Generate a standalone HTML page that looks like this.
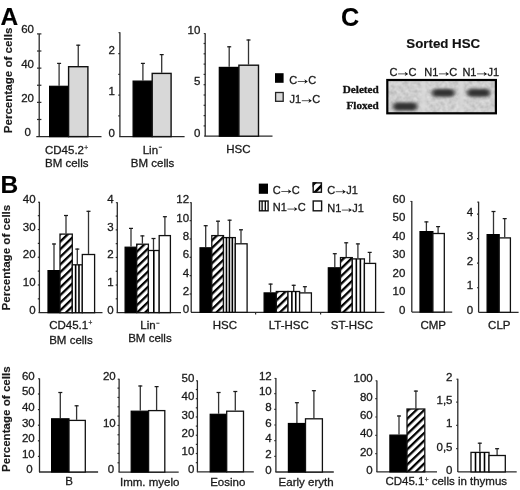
<!DOCTYPE html>
<html><head><meta charset="utf-8"><title>Figure</title>
<style>html,body{margin:0;padding:0;background:#fff;width:520px;height:490px;overflow:hidden;} svg{display:block;will-change:transform;}</style>
</head><body>
<svg width="520" height="490" viewBox="0 0 520 490">
<defs>
<pattern id="hatch" patternUnits="userSpaceOnUse" width="5.5" height="6" patternTransform="rotate(46)">
<rect width="5.5" height="6" fill="#fff"/><rect x="0" y="0" width="2.3" height="6" fill="#000"/>
</pattern>
<filter id="blur1" x="-20%" y="-50%" width="140%" height="200%"><feGaussianBlur stdDeviation="1.2"/></filter>
<filter id="blur3" x="-20%" y="-80%" width="140%" height="260%"><feGaussianBlur stdDeviation="2.0 1.8"/></filter>
<filter id="gnoise" x="0" y="0" width="100%" height="100%"><feTurbulence type="fractalNoise" baseFrequency="0.22" numOctaves="2" seed="7" result="t"/><feColorMatrix in="t" type="matrix" values="0.35 0 0 0 0.445  0.35 0 0 0 0.445  0.35 0 0 0 0.445  0 0 0 0 1"/></filter>
<filter id="blur2" x="-20%" y="-20%" width="140%" height="140%"><feGaussianBlur stdDeviation="0.6"/></filter>
<pattern id="hatchL" patternUnits="userSpaceOnUse" width="7" height="7" patternTransform="translate(313,183) rotate(45)"><rect width="7" height="7" fill="#fff"/><rect x="0" y="0" width="2.6" height="7" fill="#000"/></pattern></defs>
<rect width="520" height="490" fill="#fff"/>
<text x="0.5" y="25" font-size="24.5" text-anchor="start" font-weight="bold" font-family='"Liberation Sans", sans-serif' fill="#000" stroke="#000" stroke-width="0.15" >A</text>
<text x="0.5" y="193" font-size="24.5" text-anchor="start" font-weight="bold" font-family='"Liberation Sans", sans-serif' fill="#000" stroke="#000" stroke-width="0.15" >B</text>
<text x="340.9" y="26.4" font-size="25.2" text-anchor="start" font-weight="bold" font-family='"Liberation Sans", sans-serif' fill="#000" stroke="#000" stroke-width="0.15" >C</text>
<text x="0" y="0" font-size="11.6" text-anchor="start" font-weight="bold" font-family='"Liberation Sans", sans-serif' fill="#1a1a1a" stroke="#1a1a1a" stroke-width="0.15" transform="translate(11.9,133.3) rotate(-90)">Percentage of cells</text>
<text x="0" y="0" font-size="11.6" text-anchor="start" font-weight="bold" font-family='"Liberation Sans", sans-serif' fill="#1a1a1a" stroke="#1a1a1a" stroke-width="0.15" transform="translate(10.0,310.4) rotate(-90)">Percentage of cells</text>
<text x="0" y="0" font-size="11.6" text-anchor="start" font-weight="bold" font-family='"Liberation Sans", sans-serif' fill="#1a1a1a" stroke="#1a1a1a" stroke-width="0.15" transform="translate(10.0,472.0) rotate(-90)">Percentage of cells</text>
<line x1="39.2" y1="33.9" x2="39.2" y2="136.6" stroke="#2a2a2a" stroke-width="1.3"/>
<line x1="37" y1="119.48" x2="41.4" y2="119.48" stroke="#2a2a2a" stroke-width="1.2"/>
<line x1="37" y1="102.37" x2="41.4" y2="102.37" stroke="#2a2a2a" stroke-width="1.2"/>
<line x1="37" y1="85.25" x2="41.4" y2="85.25" stroke="#2a2a2a" stroke-width="1.2"/>
<line x1="37" y1="68.13" x2="41.4" y2="68.13" stroke="#2a2a2a" stroke-width="1.2"/>
<line x1="37" y1="51.02" x2="41.4" y2="51.02" stroke="#2a2a2a" stroke-width="1.2"/>
<line x1="37" y1="33.9" x2="41.4" y2="33.9" stroke="#2a2a2a" stroke-width="1.2"/>
<line x1="36.3" y1="136.6" x2="101.5" y2="136.6" stroke="#2a2a2a" stroke-width="1.3"/>
<text x="34" y="33.3" font-size="11.5" text-anchor="end" font-weight="normal" font-family='"Liberation Sans", sans-serif' fill="#1a1a1a" stroke="#1a1a1a" stroke-width="0.3" >60</text>
<text x="34" y="67.53" font-size="11.5" text-anchor="end" font-weight="normal" font-family='"Liberation Sans", sans-serif' fill="#1a1a1a" stroke="#1a1a1a" stroke-width="0.3" >40</text>
<text x="34" y="101.77" font-size="11.5" text-anchor="end" font-weight="normal" font-family='"Liberation Sans", sans-serif' fill="#1a1a1a" stroke="#1a1a1a" stroke-width="0.3" >20</text>
<text x="31" y="136" font-size="11.5" text-anchor="end" font-weight="normal" font-family='"Liberation Sans", sans-serif' fill="#1a1a1a" stroke="#1a1a1a" stroke-width="0.3" >0</text>
<line x1="59.1" y1="62.9" x2="59.1" y2="85.7" stroke="#333" stroke-width="1.3"/>
<line x1="57.1" y1="63.4" x2="61.1" y2="63.4" stroke="#1a1a1a" stroke-width="1.25"/>
<line x1="78.25" y1="44.7" x2="78.25" y2="66.1" stroke="#333" stroke-width="1.3"/>
<line x1="76.25" y1="45.2" x2="80.25" y2="45.2" stroke="#1a1a1a" stroke-width="1.25"/>
<rect x="49.6" y="86.3" width="19" height="50.3" fill="#000" stroke="#000" stroke-width="1.2"/>
<rect x="68.6" y="66.7" width="19.3" height="69.9" fill="#d8d8d8" stroke="#111" stroke-width="1.4"/>
<text x="45" y="153.6" font-size="11.5" text-anchor="start" font-weight="normal" font-family='"Liberation Sans", sans-serif' fill="#1a1a1a" stroke="#1a1a1a" stroke-width="0.3" >CD45.2<tspan font-size="6.5" dx="0.3" dy="-3.7" fill="#333" stroke="#333" stroke-width="0.25">+</tspan></text>
<text x="45" y="167" font-size="11.5" text-anchor="start" font-weight="normal" font-family='"Liberation Sans", sans-serif' fill="#1a1a1a" stroke="#1a1a1a" stroke-width="0.3" >BM cells</text>
<line x1="119.9" y1="32.3" x2="119.9" y2="136.6" stroke="#2a2a2a" stroke-width="1.3"/>
<line x1="118.5" y1="32.7" x2="119.9" y2="32.7" stroke="#2a2a2a" stroke-width="1.0"/>
<line x1="118.3" y1="115.85" x2="119.9" y2="115.85" stroke="#2a2a2a" stroke-width="1.2"/>
<line x1="118.3" y1="95.1" x2="119.9" y2="95.1" stroke="#2a2a2a" stroke-width="1.2"/>
<line x1="118.3" y1="74.35" x2="119.9" y2="74.35" stroke="#2a2a2a" stroke-width="1.2"/>
<line x1="118.3" y1="53.6" x2="119.9" y2="53.6" stroke="#2a2a2a" stroke-width="1.2"/>
<line x1="119.2" y1="136.6" x2="184.6" y2="136.6" stroke="#2a2a2a" stroke-width="1.3"/>
<text x="114.8" y="53.8" font-size="11.5" text-anchor="end" font-weight="normal" font-family='"Liberation Sans", sans-serif' fill="#1a1a1a" stroke="#1a1a1a" stroke-width="0.3" >2</text>
<text x="114.8" y="95.3" font-size="11.5" text-anchor="end" font-weight="normal" font-family='"Liberation Sans", sans-serif' fill="#1a1a1a" stroke="#1a1a1a" stroke-width="0.3" >1</text>
<text x="114.8" y="136.8" font-size="11.5" text-anchor="end" font-weight="normal" font-family='"Liberation Sans", sans-serif' fill="#1a1a1a" stroke="#1a1a1a" stroke-width="0.3" >0</text>
<line x1="142.9" y1="62.9" x2="142.9" y2="80.5" stroke="#333" stroke-width="1.3"/>
<line x1="140.9" y1="63.4" x2="144.9" y2="63.4" stroke="#1a1a1a" stroke-width="1.25"/>
<line x1="161.7" y1="54.1" x2="161.7" y2="72.8" stroke="#333" stroke-width="1.3"/>
<line x1="159.7" y1="54.6" x2="163.7" y2="54.6" stroke="#1a1a1a" stroke-width="1.25"/>
<rect x="133.1" y="81.1" width="19.1" height="55.5" fill="#000" stroke="#000" stroke-width="1.2"/>
<rect x="152.2" y="73.4" width="18.9" height="63.2" fill="#d8d8d8" stroke="#111" stroke-width="1.4"/>
<text x="142.7" y="153.8" font-size="11.5" text-anchor="start" font-weight="normal" font-family='"Liberation Sans", sans-serif' fill="#1a1a1a" stroke="#1a1a1a" stroke-width="0.3" >Lin<tspan font-size="6" dx="0.6" dy="-4.6" fill="#666">−</tspan></text>
<text x="130.8" y="167.3" font-size="11.5" text-anchor="start" font-weight="normal" font-family='"Liberation Sans", sans-serif' fill="#1a1a1a" stroke="#1a1a1a" stroke-width="0.3" >BM cells</text>
<line x1="205.2" y1="33.2" x2="205.2" y2="136.2" stroke="#2a2a2a" stroke-width="1.3"/>
<line x1="203.8" y1="33.6" x2="205.2" y2="33.6" stroke="#2a2a2a" stroke-width="1.0"/>
<line x1="203.6" y1="125.9" x2="205.2" y2="125.9" stroke="#2a2a2a" stroke-width="1.2"/>
<line x1="203.6" y1="115.6" x2="205.2" y2="115.6" stroke="#2a2a2a" stroke-width="1.2"/>
<line x1="203.6" y1="105.3" x2="205.2" y2="105.3" stroke="#2a2a2a" stroke-width="1.2"/>
<line x1="203.6" y1="95" x2="205.2" y2="95" stroke="#2a2a2a" stroke-width="1.2"/>
<line x1="203.6" y1="84.7" x2="205.2" y2="84.7" stroke="#2a2a2a" stroke-width="1.2"/>
<line x1="203.6" y1="74.4" x2="205.2" y2="74.4" stroke="#2a2a2a" stroke-width="1.2"/>
<line x1="203.6" y1="64.1" x2="205.2" y2="64.1" stroke="#2a2a2a" stroke-width="1.2"/>
<line x1="203.6" y1="53.8" x2="205.2" y2="53.8" stroke="#2a2a2a" stroke-width="1.2"/>
<line x1="203.6" y1="43.5" x2="205.2" y2="43.5" stroke="#2a2a2a" stroke-width="1.2"/>
<line x1="204.2" y1="136.2" x2="272.5" y2="136.2" stroke="#2a2a2a" stroke-width="1.3"/>
<text x="200.4" y="33.5" font-size="11.5" text-anchor="end" font-weight="normal" font-family='"Liberation Sans", sans-serif' fill="#1a1a1a" stroke="#1a1a1a" stroke-width="0.3" >10</text>
<text x="200.4" y="85" font-size="11.5" text-anchor="end" font-weight="normal" font-family='"Liberation Sans", sans-serif' fill="#1a1a1a" stroke="#1a1a1a" stroke-width="0.3" >5</text>
<text x="200.4" y="136.5" font-size="11.5" text-anchor="end" font-weight="normal" font-family='"Liberation Sans", sans-serif' fill="#1a1a1a" stroke="#1a1a1a" stroke-width="0.3" >0</text>
<line x1="229.2" y1="46.3" x2="229.2" y2="66.8" stroke="#333" stroke-width="1.3"/>
<line x1="227.2" y1="46.8" x2="231.2" y2="46.8" stroke="#1a1a1a" stroke-width="1.25"/>
<line x1="248.5" y1="39.5" x2="248.5" y2="64.6" stroke="#333" stroke-width="1.3"/>
<line x1="246.5" y1="40" x2="250.5" y2="40" stroke="#1a1a1a" stroke-width="1.25"/>
<rect x="219.3" y="67.4" width="19.6" height="68.8" fill="#000" stroke="#000" stroke-width="1.2"/>
<rect x="238.9" y="65.2" width="19.6" height="71" fill="#d8d8d8" stroke="#111" stroke-width="1.4"/>
<text x="226.3" y="153.3" font-size="11.5" text-anchor="start" font-weight="normal" font-family='"Liberation Sans", sans-serif' fill="#1a1a1a" stroke="#1a1a1a" stroke-width="0.3" >HSC</text>
<rect x="275" y="73.2" width="8.6" height="9.6" fill="#000"/>
<text x="289.2" y="83.8" font-size="11" text-anchor="start" font-weight="normal" font-family='"Liberation Sans", sans-serif' fill="#1a1a1a" stroke="#1a1a1a" stroke-width="0.3" >C</text>
<line x1="297.69" y1="81.49" x2="306.05" y2="81.49" stroke="#444" stroke-width="0.9"/>
<path d="M304.29,79.29 L307.81,81.49 L304.29,83.69 L305.35,81.49 Z" fill="#111"/>
<text x="308.14" y="83.8" font-size="11" text-anchor="start" font-weight="normal" font-family='"Liberation Sans", sans-serif' fill="#1a1a1a" stroke="#1a1a1a" stroke-width="0.3" >C</text>
<rect x="275.6" y="92.5" width="7.6" height="8.8" fill="#d8d8d8" stroke="#222" stroke-width="1.3"/>
<text x="289.6" y="103" font-size="11" text-anchor="start" font-weight="normal" font-family='"Liberation Sans", sans-serif' fill="#1a1a1a" stroke="#1a1a1a" stroke-width="0.3" >J1</text>
<line x1="301.77" y1="100.69" x2="310.13" y2="100.69" stroke="#444" stroke-width="0.9"/>
<path d="M308.37,98.49 L311.89,100.69 L308.37,102.89 L309.42,100.69 Z" fill="#111"/>
<text x="312.22" y="103" font-size="11" text-anchor="start" font-weight="normal" font-family='"Liberation Sans", sans-serif' fill="#1a1a1a" stroke="#1a1a1a" stroke-width="0.3" >C</text>
<text x="406.3" y="48.3" font-size="13.3" text-anchor="start" font-weight="bold" font-family='"Liberation Sans", sans-serif' fill="#111" stroke="#111" stroke-width="0.15" >Sorted HSC</text>
<text x="389.6" y="76.2" font-size="11" text-anchor="start" font-weight="normal" font-family='"Liberation Sans", sans-serif' fill="#1a1a1a" stroke="#1a1a1a" stroke-width="0.3" >C</text>
<line x1="398.09" y1="73.89" x2="406.45" y2="73.89" stroke="#444" stroke-width="0.9"/>
<path d="M404.69,71.69 L408.21,73.89 L404.69,76.09 L405.75,73.89 Z" fill="#111"/>
<text x="408.54" y="76.2" font-size="11" text-anchor="start" font-weight="normal" font-family='"Liberation Sans", sans-serif' fill="#1a1a1a" stroke="#1a1a1a" stroke-width="0.3" >C</text>
<text x="424.3" y="76.2" font-size="11" text-anchor="start" font-weight="normal" font-family='"Liberation Sans", sans-serif' fill="#1a1a1a" stroke="#1a1a1a" stroke-width="0.3" >N1</text>
<line x1="438.91" y1="73.89" x2="447.27" y2="73.89" stroke="#444" stroke-width="0.9"/>
<path d="M445.51,71.69 L449.03,73.89 L445.51,76.09 L446.57,73.89 Z" fill="#111"/>
<text x="449.36" y="76.2" font-size="11" text-anchor="start" font-weight="normal" font-family='"Liberation Sans", sans-serif' fill="#1a1a1a" stroke="#1a1a1a" stroke-width="0.3" >C</text>
<text x="462.4" y="76.2" font-size="11" text-anchor="start" font-weight="normal" font-family='"Liberation Sans", sans-serif' fill="#1a1a1a" stroke="#1a1a1a" stroke-width="0.3" >N1</text>
<line x1="477.01" y1="73.89" x2="485.37" y2="73.89" stroke="#444" stroke-width="0.9"/>
<path d="M483.61,71.69 L487.13,73.89 L483.61,76.09 L484.67,73.89 Z" fill="#111"/>
<text x="487.46" y="76.2" font-size="11" text-anchor="start" font-weight="normal" font-family='"Liberation Sans", sans-serif' fill="#1a1a1a" stroke="#1a1a1a" stroke-width="0.3" >J1</text>
<text x="378.8" y="92.9" font-size="11.2" text-anchor="end" font-weight="bold" font-family='"Liberation Serif", serif' fill="#111" stroke="#111" stroke-width="0.3" >Deleted</text>
<text x="378.8" y="108.8" font-size="11.2" text-anchor="end" font-weight="bold" font-family='"Liberation Serif", serif' fill="#111" stroke="#111" stroke-width="0.3" >Floxed</text>
<rect x="387.3" y="80" width="108.6" height="33.3" fill="#c9c9c9"/>
<rect x="387.3" y="80" width="108.6" height="33.3" fill="#000" filter="url(#gnoise)"/>
<rect x="421.5" y="80" width="4.5" height="33.3" fill="#dcdcdc" filter="url(#blur1)" opacity="0.8"/>
<rect x="459" y="80" width="4.5" height="33.3" fill="#dadada" filter="url(#blur1)" opacity="0.8"/>
<g filter="url(#blur3)" fill="#333">
<rect x="393.2" y="102.6" width="24" height="7.9" rx="3.8"/>
<rect x="432.2" y="88.9" width="22.4" height="7.9" rx="3.8"/>
<rect x="467.2" y="88.9" width="22.8" height="7.9" rx="3.8"/>
</g>
<rect x="387.3" y="80" width="108.6" height="33.3" fill="none" stroke="#000" stroke-width="2.2"/>
<line x1="39.4" y1="201.8" x2="39.4" y2="312.7" stroke="#2a2a2a" stroke-width="1.3"/>
<line x1="38" y1="202.2" x2="39.4" y2="202.2" stroke="#2a2a2a" stroke-width="1.0"/>
<line x1="37.8" y1="298.84" x2="39.4" y2="298.84" stroke="#2a2a2a" stroke-width="1.2"/>
<line x1="37.8" y1="284.98" x2="39.4" y2="284.98" stroke="#2a2a2a" stroke-width="1.2"/>
<line x1="37.8" y1="271.11" x2="39.4" y2="271.11" stroke="#2a2a2a" stroke-width="1.2"/>
<line x1="37.8" y1="257.25" x2="39.4" y2="257.25" stroke="#2a2a2a" stroke-width="1.2"/>
<line x1="37.8" y1="243.39" x2="39.4" y2="243.39" stroke="#2a2a2a" stroke-width="1.2"/>
<line x1="37.8" y1="229.53" x2="39.4" y2="229.53" stroke="#2a2a2a" stroke-width="1.2"/>
<line x1="37.8" y1="215.66" x2="39.4" y2="215.66" stroke="#2a2a2a" stroke-width="1.2"/>
<line x1="38.5" y1="312.7" x2="102.5" y2="312.7" stroke="#2a2a2a" stroke-width="1.3"/>
<text x="35.6" y="202.8" font-size="11.5" text-anchor="end" font-weight="normal" font-family='"Liberation Sans", sans-serif' fill="#1a1a1a" stroke="#1a1a1a" stroke-width="0.3" >40</text>
<text x="35.6" y="230.53" font-size="11.5" text-anchor="end" font-weight="normal" font-family='"Liberation Sans", sans-serif' fill="#1a1a1a" stroke="#1a1a1a" stroke-width="0.3" >30</text>
<text x="35.6" y="258.25" font-size="11.5" text-anchor="end" font-weight="normal" font-family='"Liberation Sans", sans-serif' fill="#1a1a1a" stroke="#1a1a1a" stroke-width="0.3" >20</text>
<text x="35.6" y="285.98" font-size="11.5" text-anchor="end" font-weight="normal" font-family='"Liberation Sans", sans-serif' fill="#1a1a1a" stroke="#1a1a1a" stroke-width="0.3" >10</text>
<text x="35.6" y="313.7" font-size="11.5" text-anchor="end" font-weight="normal" font-family='"Liberation Sans", sans-serif' fill="#1a1a1a" stroke="#1a1a1a" stroke-width="0.3" >0</text>
<line x1="54" y1="243.5" x2="54" y2="270" stroke="#333" stroke-width="1.3"/>
<line x1="52" y1="244" x2="56" y2="244" stroke="#1a1a1a" stroke-width="1.25"/>
<line x1="66" y1="215" x2="66" y2="233.5" stroke="#333" stroke-width="1.3"/>
<line x1="64" y1="215.5" x2="68" y2="215.5" stroke="#1a1a1a" stroke-width="1.25"/>
<line x1="77.3" y1="248.6" x2="77.3" y2="264.2" stroke="#333" stroke-width="1.3"/>
<line x1="75.3" y1="249.1" x2="79.3" y2="249.1" stroke="#1a1a1a" stroke-width="1.25"/>
<line x1="88.5" y1="210.8" x2="88.5" y2="253.9" stroke="#333" stroke-width="1.3"/>
<line x1="86.5" y1="211.3" x2="90.5" y2="211.3" stroke="#1a1a1a" stroke-width="1.25"/>
<rect x="48" y="270.6" width="12" height="42.1" fill="#000" stroke="#000" stroke-width="1.2"/>
<rect x="60" y="234.1" width="12.3" height="78.6" fill="url(#hatch)" stroke="#111" stroke-width="1.3"/>
<rect x="72.3" y="264.8" width="10" height="47.9" fill="#fff" stroke="#111" stroke-width="1.3"/>
<line x1="75.63" y1="264.8" x2="75.63" y2="312.7" stroke="#000" stroke-width="1.6"/>
<line x1="78.97" y1="264.8" x2="78.97" y2="312.7" stroke="#000" stroke-width="1.6"/>
<rect x="82.3" y="254.5" width="12.3" height="58.2" fill="#fff" stroke="#111" stroke-width="1.3"/>
<text x="49.2" y="328.7" font-size="11.5" text-anchor="start" font-weight="normal" font-family='"Liberation Sans", sans-serif' fill="#1a1a1a" stroke="#1a1a1a" stroke-width="0.3" >CD45.1<tspan font-size="6.5" dx="0.3" dy="-3.7" fill="#333" stroke="#333" stroke-width="0.25">+</tspan></text>
<text x="49.2" y="343.5" font-size="11.5" text-anchor="start" font-weight="normal" font-family='"Liberation Sans", sans-serif' fill="#1a1a1a" stroke="#1a1a1a" stroke-width="0.3" >BM cells</text>
<line x1="117.3" y1="202.3" x2="117.3" y2="312.6" stroke="#2a2a2a" stroke-width="1.3"/>
<line x1="115.9" y1="202.7" x2="117.3" y2="202.7" stroke="#2a2a2a" stroke-width="1.0"/>
<line x1="115.7" y1="298.81" x2="117.3" y2="298.81" stroke="#2a2a2a" stroke-width="1.2"/>
<line x1="115.7" y1="285.03" x2="117.3" y2="285.03" stroke="#2a2a2a" stroke-width="1.2"/>
<line x1="115.7" y1="271.24" x2="117.3" y2="271.24" stroke="#2a2a2a" stroke-width="1.2"/>
<line x1="115.7" y1="257.45" x2="117.3" y2="257.45" stroke="#2a2a2a" stroke-width="1.2"/>
<line x1="115.7" y1="243.66" x2="117.3" y2="243.66" stroke="#2a2a2a" stroke-width="1.2"/>
<line x1="115.7" y1="229.88" x2="117.3" y2="229.88" stroke="#2a2a2a" stroke-width="1.2"/>
<line x1="115.7" y1="216.09" x2="117.3" y2="216.09" stroke="#2a2a2a" stroke-width="1.2"/>
<line x1="116.6" y1="312.6" x2="181" y2="312.6" stroke="#2a2a2a" stroke-width="1.3"/>
<text x="113.6" y="203.3" font-size="11.5" text-anchor="end" font-weight="normal" font-family='"Liberation Sans", sans-serif' fill="#1a1a1a" stroke="#1a1a1a" stroke-width="0.3" >4</text>
<text x="113.6" y="230.88" font-size="11.5" text-anchor="end" font-weight="normal" font-family='"Liberation Sans", sans-serif' fill="#1a1a1a" stroke="#1a1a1a" stroke-width="0.3" >3</text>
<text x="113.6" y="258.45" font-size="11.5" text-anchor="end" font-weight="normal" font-family='"Liberation Sans", sans-serif' fill="#1a1a1a" stroke="#1a1a1a" stroke-width="0.3" >2</text>
<text x="113.6" y="286.03" font-size="11.5" text-anchor="end" font-weight="normal" font-family='"Liberation Sans", sans-serif' fill="#1a1a1a" stroke="#1a1a1a" stroke-width="0.3" >1</text>
<text x="113.6" y="313.6" font-size="11.5" text-anchor="end" font-weight="normal" font-family='"Liberation Sans", sans-serif' fill="#1a1a1a" stroke="#1a1a1a" stroke-width="0.3" >0</text>
<line x1="131" y1="227.9" x2="131" y2="246.6" stroke="#333" stroke-width="1.3"/>
<line x1="129" y1="228.4" x2="133" y2="228.4" stroke="#1a1a1a" stroke-width="1.25"/>
<line x1="142.4" y1="235.4" x2="142.4" y2="243.6" stroke="#333" stroke-width="1.3"/>
<line x1="140.4" y1="235.9" x2="144.4" y2="235.9" stroke="#1a1a1a" stroke-width="1.25"/>
<line x1="153.5" y1="238" x2="153.5" y2="249.9" stroke="#333" stroke-width="1.3"/>
<line x1="151.5" y1="238.5" x2="155.5" y2="238.5" stroke="#1a1a1a" stroke-width="1.25"/>
<line x1="164.9" y1="216.2" x2="164.9" y2="235" stroke="#333" stroke-width="1.3"/>
<line x1="162.9" y1="216.7" x2="166.9" y2="216.7" stroke="#1a1a1a" stroke-width="1.25"/>
<rect x="125.1" y="247.2" width="11.6" height="65.4" fill="#000" stroke="#000" stroke-width="1.2"/>
<rect x="136.7" y="244.2" width="11.7" height="68.4" fill="url(#hatch)" stroke="#111" stroke-width="1.3"/>
<rect x="148.4" y="250.5" width="10.8" height="62.1" fill="#fff" stroke="#111" stroke-width="1.3"/>
<line x1="153.8" y1="250.5" x2="153.8" y2="312.6" stroke="#000" stroke-width="1.6"/>
<rect x="159.2" y="235.6" width="11.2" height="77" fill="#fff" stroke="#111" stroke-width="1.3"/>
<text x="140.3" y="329.2" font-size="11.5" text-anchor="start" font-weight="normal" font-family='"Liberation Sans", sans-serif' fill="#1a1a1a" stroke="#1a1a1a" stroke-width="0.3" >Lin<tspan font-size="6" dx="0.6" dy="-4.6" fill="#666">−</tspan></text>
<text x="128.2" y="341.9" font-size="11.5" text-anchor="start" font-weight="normal" font-family='"Liberation Sans", sans-serif' fill="#1a1a1a" stroke="#1a1a1a" stroke-width="0.3" >BM cells</text>
<line x1="191.2" y1="202.3" x2="191.2" y2="312.3" stroke="#2a2a2a" stroke-width="1.3"/>
<line x1="189.8" y1="202.7" x2="191.2" y2="202.7" stroke="#2a2a2a" stroke-width="1.0"/>
<line x1="189.6" y1="293.97" x2="191.2" y2="293.97" stroke="#2a2a2a" stroke-width="1.2"/>
<line x1="189.6" y1="275.63" x2="191.2" y2="275.63" stroke="#2a2a2a" stroke-width="1.2"/>
<line x1="189.6" y1="257.3" x2="191.2" y2="257.3" stroke="#2a2a2a" stroke-width="1.2"/>
<line x1="189.6" y1="238.97" x2="191.2" y2="238.97" stroke="#2a2a2a" stroke-width="1.2"/>
<line x1="189.6" y1="220.63" x2="191.2" y2="220.63" stroke="#2a2a2a" stroke-width="1.2"/>
<line x1="191" y1="312.3" x2="384.5" y2="312.3" stroke="#2a2a2a" stroke-width="1.3"/>
<line x1="255.6" y1="312.3" x2="255.6" y2="314.5" stroke="#2a2a2a" stroke-width="1.2"/>
<line x1="320.6" y1="312.3" x2="320.6" y2="314.5" stroke="#2a2a2a" stroke-width="1.2"/>
<text x="189.1" y="203.3" font-size="11.5" text-anchor="end" font-weight="normal" font-family='"Liberation Sans", sans-serif' fill="#1a1a1a" stroke="#1a1a1a" stroke-width="0.3" >12</text>
<text x="189.1" y="221.63" font-size="11.5" text-anchor="end" font-weight="normal" font-family='"Liberation Sans", sans-serif' fill="#1a1a1a" stroke="#1a1a1a" stroke-width="0.3" >10</text>
<text x="189.1" y="239.97" font-size="11.5" text-anchor="end" font-weight="normal" font-family='"Liberation Sans", sans-serif' fill="#1a1a1a" stroke="#1a1a1a" stroke-width="0.3" >8</text>
<text x="189.1" y="258.3" font-size="11.5" text-anchor="end" font-weight="normal" font-family='"Liberation Sans", sans-serif' fill="#1a1a1a" stroke="#1a1a1a" stroke-width="0.3" >6</text>
<text x="189.1" y="276.63" font-size="11.5" text-anchor="end" font-weight="normal" font-family='"Liberation Sans", sans-serif' fill="#1a1a1a" stroke="#1a1a1a" stroke-width="0.3" >4</text>
<text x="189.1" y="294.97" font-size="11.5" text-anchor="end" font-weight="normal" font-family='"Liberation Sans", sans-serif' fill="#1a1a1a" stroke="#1a1a1a" stroke-width="0.3" >2</text>
<text x="189.1" y="313.3" font-size="11.5" text-anchor="end" font-weight="normal" font-family='"Liberation Sans", sans-serif' fill="#1a1a1a" stroke="#1a1a1a" stroke-width="0.3" >0</text>
<line x1="205.7" y1="225.2" x2="205.7" y2="247.2" stroke="#333" stroke-width="1.3"/>
<line x1="203.7" y1="225.7" x2="207.7" y2="225.7" stroke="#1a1a1a" stroke-width="1.25"/>
<line x1="218" y1="220.7" x2="218" y2="235" stroke="#333" stroke-width="1.3"/>
<line x1="216" y1="221.2" x2="220" y2="221.2" stroke="#1a1a1a" stroke-width="1.25"/>
<line x1="229.6" y1="219.7" x2="229.6" y2="237" stroke="#333" stroke-width="1.3"/>
<line x1="227.6" y1="220.2" x2="231.6" y2="220.2" stroke="#1a1a1a" stroke-width="1.25"/>
<line x1="241" y1="229.3" x2="241" y2="243.2" stroke="#333" stroke-width="1.3"/>
<line x1="239" y1="229.8" x2="243" y2="229.8" stroke="#1a1a1a" stroke-width="1.25"/>
<rect x="200" y="247.8" width="11.8" height="64.5" fill="#000" stroke="#000" stroke-width="1.2"/>
<rect x="211.8" y="235.6" width="11.7" height="76.7" fill="url(#hatch)" stroke="#111" stroke-width="1.3"/>
<rect x="223.5" y="237.6" width="11.8" height="74.7" fill="#fff" stroke="#111" stroke-width="1.3"/>
<line x1="226.45" y1="237.6" x2="226.45" y2="312.3" stroke="#000" stroke-width="1.6"/>
<line x1="229.4" y1="237.6" x2="229.4" y2="312.3" stroke="#000" stroke-width="1.6"/>
<line x1="232.35" y1="237.6" x2="232.35" y2="312.3" stroke="#000" stroke-width="1.6"/>
<rect x="235.3" y="243.8" width="11.8" height="68.5" fill="#fff" stroke="#111" stroke-width="1.3"/>
<line x1="270.6" y1="283.6" x2="270.6" y2="292.3" stroke="#333" stroke-width="1.3"/>
<line x1="268.6" y1="284.1" x2="272.6" y2="284.1" stroke="#1a1a1a" stroke-width="1.25"/>
<line x1="293.7" y1="284.8" x2="293.7" y2="290.9" stroke="#333" stroke-width="1.3"/>
<line x1="291.7" y1="285.3" x2="295.7" y2="285.3" stroke="#1a1a1a" stroke-width="1.25"/>
<line x1="304.9" y1="286.2" x2="304.9" y2="292.3" stroke="#333" stroke-width="1.3"/>
<line x1="302.9" y1="286.7" x2="306.9" y2="286.7" stroke="#1a1a1a" stroke-width="1.25"/>
<rect x="264.1" y="292.9" width="12.2" height="19.4" fill="#000" stroke="#000" stroke-width="1.2"/>
<rect x="276.3" y="291.5" width="11.7" height="20.8" fill="url(#hatch)" stroke="#111" stroke-width="1.3"/>
<rect x="288" y="291.5" width="11.6" height="20.8" fill="#fff" stroke="#111" stroke-width="1.3"/>
<line x1="291.87" y1="291.5" x2="291.87" y2="312.3" stroke="#000" stroke-width="1.6"/>
<line x1="295.73" y1="291.5" x2="295.73" y2="312.3" stroke="#000" stroke-width="1.6"/>
<rect x="299.6" y="292.9" width="11.8" height="19.4" fill="#fff" stroke="#111" stroke-width="1.3"/>
<line x1="334.8" y1="253.2" x2="334.8" y2="267.2" stroke="#333" stroke-width="1.3"/>
<line x1="332.8" y1="253.7" x2="336.8" y2="253.7" stroke="#1a1a1a" stroke-width="1.25"/>
<line x1="346.2" y1="242.3" x2="346.2" y2="257" stroke="#333" stroke-width="1.3"/>
<line x1="344.2" y1="242.8" x2="348.2" y2="242.8" stroke="#1a1a1a" stroke-width="1.25"/>
<line x1="357.9" y1="243.4" x2="357.9" y2="258.3" stroke="#333" stroke-width="1.3"/>
<line x1="355.9" y1="243.9" x2="359.9" y2="243.9" stroke="#1a1a1a" stroke-width="1.25"/>
<line x1="369.7" y1="251.9" x2="369.7" y2="262.8" stroke="#333" stroke-width="1.3"/>
<line x1="367.7" y1="252.4" x2="371.7" y2="252.4" stroke="#1a1a1a" stroke-width="1.25"/>
<rect x="328.3" y="267.8" width="12.2" height="44.5" fill="#000" stroke="#000" stroke-width="1.2"/>
<rect x="340.5" y="257.6" width="11.8" height="54.7" fill="url(#hatch)" stroke="#111" stroke-width="1.3"/>
<rect x="352.3" y="258.9" width="12.1" height="53.4" fill="#fff" stroke="#111" stroke-width="1.3"/>
<line x1="356.33" y1="258.9" x2="356.33" y2="312.3" stroke="#000" stroke-width="1.6"/>
<line x1="360.37" y1="258.9" x2="360.37" y2="312.3" stroke="#000" stroke-width="1.6"/>
<rect x="364.4" y="263.4" width="11.2" height="48.9" fill="#fff" stroke="#111" stroke-width="1.3"/>
<text x="212.8" y="329" font-size="11.5" text-anchor="start" font-weight="normal" font-family='"Liberation Sans", sans-serif' fill="#1a1a1a" stroke="#1a1a1a" stroke-width="0.3" >HSC</text>
<text x="268.8" y="329.4" font-size="11.5" text-anchor="start" font-weight="normal" font-family='"Liberation Sans", sans-serif' fill="#1a1a1a" stroke="#1a1a1a" stroke-width="0.3" >LT-HSC</text>
<text x="330.8" y="329.4" font-size="11.5" text-anchor="start" font-weight="normal" font-family='"Liberation Sans", sans-serif' fill="#1a1a1a" stroke="#1a1a1a" stroke-width="0.3" >ST-HSC</text>
<rect x="258.8" y="183.6" width="9.2" height="10.2" fill="#000"/>
<text x="272.8" y="193.8" font-size="11" text-anchor="start" font-weight="normal" font-family='"Liberation Sans", sans-serif' fill="#1a1a1a" stroke="#1a1a1a" stroke-width="0.3" >C</text>
<line x1="281.29" y1="191.49" x2="289.65" y2="191.49" stroke="#444" stroke-width="0.9"/>
<path d="M287.89,189.29 L291.41,191.49 L287.89,193.69 L288.95,191.49 Z" fill="#111"/>
<text x="291.74" y="193.8" font-size="11" text-anchor="start" font-weight="normal" font-family='"Liberation Sans", sans-serif' fill="#1a1a1a" stroke="#1a1a1a" stroke-width="0.3" >C</text>
<clipPath id="lhc"><rect x="312.6" y="182.3" width="9.2" height="10.1"/></clipPath>
<g clip-path="url(#lhc)"><rect x="312.6" y="182.3" width="9.2" height="10.1" fill="#fff"/>
<polygon points="312,182 317.6,182 312,187.6" fill="#000"/>
<polygon points="312,193.3 323.3,182 326.9,182 312,196.9" fill="#000"/></g>
<rect x="313.2" y="182.9" width="8.2" height="9.3" fill="none" stroke="#111" stroke-width="1.4"/>
<text x="327.2" y="194" font-size="11" text-anchor="start" font-weight="normal" font-family='"Liberation Sans", sans-serif' fill="#1a1a1a" stroke="#1a1a1a" stroke-width="0.3" >C</text>
<line x1="335.69" y1="191.69" x2="344.05" y2="191.69" stroke="#444" stroke-width="0.9"/>
<path d="M342.29,189.49 L345.81,191.69 L342.29,193.89 L343.35,191.69 Z" fill="#111"/>
<text x="346.14" y="194" font-size="11" text-anchor="start" font-weight="normal" font-family='"Liberation Sans", sans-serif' fill="#1a1a1a" stroke="#1a1a1a" stroke-width="0.3" >J1</text>
<g><rect x="259.5" y="201" width="8.6" height="9.8" fill="#fff" stroke="#111" stroke-width="1.4"/>
<line x1="262.1" y1="201" x2="262.1" y2="210.8" stroke="#000" stroke-width="1.3"/>
<line x1="265.3" y1="201" x2="265.3" y2="210.8" stroke="#000" stroke-width="1.3"/>
</g>
<text x="272.8" y="211.4" font-size="11" text-anchor="start" font-weight="normal" font-family='"Liberation Sans", sans-serif' fill="#1a1a1a" stroke="#1a1a1a" stroke-width="0.3" >N1</text>
<line x1="287.41" y1="209.09" x2="295.77" y2="209.09" stroke="#444" stroke-width="0.9"/>
<path d="M294.01,206.89 L297.53,209.09 L294.01,211.29 L295.07,209.09 Z" fill="#111"/>
<text x="297.86" y="211.4" font-size="11" text-anchor="start" font-weight="normal" font-family='"Liberation Sans", sans-serif' fill="#1a1a1a" stroke="#1a1a1a" stroke-width="0.3" >C</text>
<rect x="313.2" y="201" width="8.4" height="9.8" fill="#fff" stroke="#111" stroke-width="1.4"/>
<text x="327.2" y="212.4" font-size="11" text-anchor="start" font-weight="normal" font-family='"Liberation Sans", sans-serif' fill="#1a1a1a" stroke="#1a1a1a" stroke-width="0.3" >N1</text>
<line x1="341.81" y1="210.09" x2="350.17" y2="210.09" stroke="#444" stroke-width="0.9"/>
<path d="M348.41,207.89 L351.93,210.09 L348.41,212.29 L349.47,210.09 Z" fill="#111"/>
<text x="352.26" y="212.4" font-size="11" text-anchor="start" font-weight="normal" font-family='"Liberation Sans", sans-serif' fill="#1a1a1a" stroke="#1a1a1a" stroke-width="0.3" >J1</text>
<line x1="411.8" y1="201" x2="411.8" y2="312.1" stroke="#2a2a2a" stroke-width="1.3"/>
<line x1="410.4" y1="201.4" x2="411.8" y2="201.4" stroke="#2a2a2a" stroke-width="1.0"/>
<line x1="411.8" y1="312.1" x2="452.2" y2="312.1" stroke="#2a2a2a" stroke-width="1.3"/>
<text x="405.4" y="202.6" font-size="11.5" text-anchor="end" font-weight="normal" font-family='"Liberation Sans", sans-serif' fill="#1a1a1a" stroke="#1a1a1a" stroke-width="0.3" >60</text>
<text x="405.4" y="221.12" font-size="11.5" text-anchor="end" font-weight="normal" font-family='"Liberation Sans", sans-serif' fill="#1a1a1a" stroke="#1a1a1a" stroke-width="0.3" >50</text>
<text x="405.4" y="239.63" font-size="11.5" text-anchor="end" font-weight="normal" font-family='"Liberation Sans", sans-serif' fill="#1a1a1a" stroke="#1a1a1a" stroke-width="0.3" >40</text>
<text x="405.4" y="258.15" font-size="11.5" text-anchor="end" font-weight="normal" font-family='"Liberation Sans", sans-serif' fill="#1a1a1a" stroke="#1a1a1a" stroke-width="0.3" >30</text>
<text x="405.4" y="276.67" font-size="11.5" text-anchor="end" font-weight="normal" font-family='"Liberation Sans", sans-serif' fill="#1a1a1a" stroke="#1a1a1a" stroke-width="0.3" >20</text>
<text x="405.4" y="295.18" font-size="11.5" text-anchor="end" font-weight="normal" font-family='"Liberation Sans", sans-serif' fill="#1a1a1a" stroke="#1a1a1a" stroke-width="0.3" >10</text>
<text x="405.4" y="313.7" font-size="11.5" text-anchor="end" font-weight="normal" font-family='"Liberation Sans", sans-serif' fill="#1a1a1a" stroke="#1a1a1a" stroke-width="0.3" >0</text>
<line x1="426.4" y1="221.4" x2="426.4" y2="231" stroke="#333" stroke-width="1.3"/>
<line x1="424.4" y1="221.9" x2="428.4" y2="221.9" stroke="#1a1a1a" stroke-width="1.25"/>
<line x1="438.1" y1="226.1" x2="438.1" y2="232.9" stroke="#333" stroke-width="1.3"/>
<line x1="436.1" y1="226.6" x2="440.1" y2="226.6" stroke="#1a1a1a" stroke-width="1.25"/>
<rect x="420" y="231.6" width="12.9" height="80.5" fill="#000" stroke="#000" stroke-width="1.2"/>
<rect x="432.9" y="233.5" width="11.4" height="78.6" fill="#fff" stroke="#111" stroke-width="1.3"/>
<text x="420.4" y="329.4" font-size="11.5" text-anchor="start" font-weight="normal" font-family='"Liberation Sans", sans-serif' fill="#1a1a1a" stroke="#1a1a1a" stroke-width="0.3" >CMP</text>
<line x1="478.6" y1="201.7" x2="478.6" y2="312.3" stroke="#2a2a2a" stroke-width="1.3"/>
<line x1="477.2" y1="202.1" x2="478.6" y2="202.1" stroke="#2a2a2a" stroke-width="1.0"/>
<line x1="477" y1="287.75" x2="478.6" y2="287.75" stroke="#2a2a2a" stroke-width="1.2"/>
<line x1="477" y1="263.2" x2="478.6" y2="263.2" stroke="#2a2a2a" stroke-width="1.2"/>
<line x1="477" y1="238.65" x2="478.6" y2="238.65" stroke="#2a2a2a" stroke-width="1.2"/>
<line x1="477" y1="214.1" x2="478.6" y2="214.1" stroke="#2a2a2a" stroke-width="1.2"/>
<line x1="478.6" y1="312.3" x2="518.6" y2="312.3" stroke="#2a2a2a" stroke-width="1.3"/>
<text x="473.2" y="215.6" font-size="11.5" text-anchor="end" font-weight="normal" font-family='"Liberation Sans", sans-serif' fill="#1a1a1a" stroke="#1a1a1a" stroke-width="0.3" >4</text>
<text x="473.2" y="240.15" font-size="11.5" text-anchor="end" font-weight="normal" font-family='"Liberation Sans", sans-serif' fill="#1a1a1a" stroke="#1a1a1a" stroke-width="0.3" >3</text>
<text x="473.2" y="264.7" font-size="11.5" text-anchor="end" font-weight="normal" font-family='"Liberation Sans", sans-serif' fill="#1a1a1a" stroke="#1a1a1a" stroke-width="0.3" >2</text>
<text x="473.2" y="289.25" font-size="11.5" text-anchor="end" font-weight="normal" font-family='"Liberation Sans", sans-serif' fill="#1a1a1a" stroke="#1a1a1a" stroke-width="0.3" >1</text>
<text x="473.2" y="313.8" font-size="11.5" text-anchor="end" font-weight="normal" font-family='"Liberation Sans", sans-serif' fill="#1a1a1a" stroke="#1a1a1a" stroke-width="0.3" >0</text>
<line x1="493.5" y1="211" x2="493.5" y2="234" stroke="#333" stroke-width="1.3"/>
<line x1="491.5" y1="211.5" x2="495.5" y2="211.5" stroke="#1a1a1a" stroke-width="1.25"/>
<line x1="504.7" y1="218.1" x2="504.7" y2="237.3" stroke="#333" stroke-width="1.3"/>
<line x1="502.7" y1="218.6" x2="506.7" y2="218.6" stroke="#1a1a1a" stroke-width="1.25"/>
<rect x="487.1" y="234.6" width="12.1" height="77.7" fill="#000" stroke="#000" stroke-width="1.2"/>
<rect x="499.2" y="237.9" width="11.2" height="74.4" fill="#fff" stroke="#111" stroke-width="1.3"/>
<text x="488.1" y="329.4" font-size="11.5" text-anchor="start" font-weight="normal" font-family='"Liberation Sans", sans-serif' fill="#1a1a1a" stroke="#1a1a1a" stroke-width="0.3" >CLP</text>
<line x1="39.5" y1="378.4" x2="39.5" y2="472" stroke="#2a2a2a" stroke-width="1.3"/>
<line x1="38.1" y1="378.8" x2="39.5" y2="378.8" stroke="#2a2a2a" stroke-width="1.0"/>
<line x1="37.9" y1="456.4" x2="39.5" y2="456.4" stroke="#2a2a2a" stroke-width="1.2"/>
<line x1="37.9" y1="440.8" x2="39.5" y2="440.8" stroke="#2a2a2a" stroke-width="1.2"/>
<line x1="37.9" y1="425.2" x2="39.5" y2="425.2" stroke="#2a2a2a" stroke-width="1.2"/>
<line x1="37.9" y1="409.6" x2="39.5" y2="409.6" stroke="#2a2a2a" stroke-width="1.2"/>
<line x1="37.9" y1="394" x2="39.5" y2="394" stroke="#2a2a2a" stroke-width="1.2"/>
<line x1="39" y1="472" x2="98.1" y2="472" stroke="#2a2a2a" stroke-width="1.3"/>
<text x="34.7" y="379.8" font-size="11.5" text-anchor="end" font-weight="normal" font-family='"Liberation Sans", sans-serif' fill="#1a1a1a" stroke="#1a1a1a" stroke-width="0.3" >60</text>
<text x="34.7" y="395.4" font-size="11.5" text-anchor="end" font-weight="normal" font-family='"Liberation Sans", sans-serif' fill="#1a1a1a" stroke="#1a1a1a" stroke-width="0.3" >50</text>
<text x="34.7" y="411" font-size="11.5" text-anchor="end" font-weight="normal" font-family='"Liberation Sans", sans-serif' fill="#1a1a1a" stroke="#1a1a1a" stroke-width="0.3" >40</text>
<text x="34.7" y="426.6" font-size="11.5" text-anchor="end" font-weight="normal" font-family='"Liberation Sans", sans-serif' fill="#1a1a1a" stroke="#1a1a1a" stroke-width="0.3" >30</text>
<text x="34.7" y="442.2" font-size="11.5" text-anchor="end" font-weight="normal" font-family='"Liberation Sans", sans-serif' fill="#1a1a1a" stroke="#1a1a1a" stroke-width="0.3" >20</text>
<text x="34.7" y="457.8" font-size="11.5" text-anchor="end" font-weight="normal" font-family='"Liberation Sans", sans-serif' fill="#1a1a1a" stroke="#1a1a1a" stroke-width="0.3" >10</text>
<text x="32.6" y="472.6" font-size="11.5" text-anchor="end" font-weight="normal" font-family='"Liberation Sans", sans-serif' fill="#1a1a1a" stroke="#1a1a1a" stroke-width="0.3" >0</text>
<line x1="60.3" y1="392" x2="60.3" y2="418.2" stroke="#333" stroke-width="1.3"/>
<line x1="58.3" y1="392.5" x2="62.3" y2="392.5" stroke="#1a1a1a" stroke-width="1.25"/>
<line x1="76.6" y1="405.3" x2="76.6" y2="419.8" stroke="#333" stroke-width="1.3"/>
<line x1="74.6" y1="405.8" x2="78.6" y2="405.8" stroke="#1a1a1a" stroke-width="1.25"/>
<rect x="51.6" y="418.8" width="17.4" height="53.2" fill="#000" stroke="#000" stroke-width="1.2"/>
<rect x="69" y="420.4" width="16.3" height="51.6" fill="#fff" stroke="#111" stroke-width="1.3"/>
<text x="65.3" y="485.4" font-size="11.5" text-anchor="start" font-weight="normal" font-family='"Liberation Sans", sans-serif' fill="#1a1a1a" stroke="#1a1a1a" stroke-width="0.3" >B</text>
<line x1="119.1" y1="378.8" x2="119.1" y2="472.1" stroke="#2a2a2a" stroke-width="1.3"/>
<line x1="117.7" y1="379.2" x2="119.1" y2="379.2" stroke="#2a2a2a" stroke-width="1.0"/>
<line x1="117.5" y1="462.77" x2="119.1" y2="462.77" stroke="#2a2a2a" stroke-width="1.2"/>
<line x1="117.5" y1="453.44" x2="119.1" y2="453.44" stroke="#2a2a2a" stroke-width="1.2"/>
<line x1="117.5" y1="444.11" x2="119.1" y2="444.11" stroke="#2a2a2a" stroke-width="1.2"/>
<line x1="117.5" y1="434.78" x2="119.1" y2="434.78" stroke="#2a2a2a" stroke-width="1.2"/>
<line x1="117.5" y1="425.45" x2="119.1" y2="425.45" stroke="#2a2a2a" stroke-width="1.2"/>
<line x1="117.5" y1="416.12" x2="119.1" y2="416.12" stroke="#2a2a2a" stroke-width="1.2"/>
<line x1="117.5" y1="406.79" x2="119.1" y2="406.79" stroke="#2a2a2a" stroke-width="1.2"/>
<line x1="117.5" y1="397.46" x2="119.1" y2="397.46" stroke="#2a2a2a" stroke-width="1.2"/>
<line x1="117.5" y1="388.13" x2="119.1" y2="388.13" stroke="#2a2a2a" stroke-width="1.2"/>
<line x1="118.5" y1="472.1" x2="178.7" y2="472.1" stroke="#2a2a2a" stroke-width="1.3"/>
<text x="115.7" y="380.4" font-size="11.5" text-anchor="end" font-weight="normal" font-family='"Liberation Sans", sans-serif' fill="#1a1a1a" stroke="#1a1a1a" stroke-width="0.3" >20</text>
<text x="115.7" y="427.05" font-size="11.5" text-anchor="end" font-weight="normal" font-family='"Liberation Sans", sans-serif' fill="#1a1a1a" stroke="#1a1a1a" stroke-width="0.3" >10</text>
<text x="114.1" y="473" font-size="11.5" text-anchor="end" font-weight="normal" font-family='"Liberation Sans", sans-serif' fill="#1a1a1a" stroke="#1a1a1a" stroke-width="0.3" >0</text>
<line x1="140.3" y1="385.5" x2="140.3" y2="410.6" stroke="#333" stroke-width="1.3"/>
<line x1="138.3" y1="386" x2="142.3" y2="386" stroke="#1a1a1a" stroke-width="1.25"/>
<line x1="156.6" y1="386.1" x2="156.6" y2="410" stroke="#333" stroke-width="1.3"/>
<line x1="154.6" y1="386.6" x2="158.6" y2="386.6" stroke="#1a1a1a" stroke-width="1.25"/>
<rect x="131.2" y="411.2" width="17.4" height="60.9" fill="#000" stroke="#000" stroke-width="1.2"/>
<rect x="148.6" y="410.6" width="16.2" height="61.5" fill="#fff" stroke="#111" stroke-width="1.3"/>
<text x="120" y="486" font-size="11.5" text-anchor="start" font-weight="normal" font-family='"Liberation Sans", sans-serif' fill="#1a1a1a" stroke="#1a1a1a" stroke-width="0.3" >Imm. myelo</text>
<line x1="197.4" y1="380.4" x2="197.4" y2="471.8" stroke="#2a2a2a" stroke-width="1.3"/>
<line x1="196" y1="380.8" x2="197.4" y2="380.8" stroke="#2a2a2a" stroke-width="1.0"/>
<line x1="195.8" y1="462.66" x2="197.4" y2="462.66" stroke="#2a2a2a" stroke-width="1.2"/>
<line x1="195.8" y1="453.52" x2="197.4" y2="453.52" stroke="#2a2a2a" stroke-width="1.2"/>
<line x1="195.8" y1="444.38" x2="197.4" y2="444.38" stroke="#2a2a2a" stroke-width="1.2"/>
<line x1="195.8" y1="435.24" x2="197.4" y2="435.24" stroke="#2a2a2a" stroke-width="1.2"/>
<line x1="195.8" y1="426.1" x2="197.4" y2="426.1" stroke="#2a2a2a" stroke-width="1.2"/>
<line x1="195.8" y1="416.96" x2="197.4" y2="416.96" stroke="#2a2a2a" stroke-width="1.2"/>
<line x1="195.8" y1="407.82" x2="197.4" y2="407.82" stroke="#2a2a2a" stroke-width="1.2"/>
<line x1="195.8" y1="398.68" x2="197.4" y2="398.68" stroke="#2a2a2a" stroke-width="1.2"/>
<line x1="195.8" y1="389.54" x2="197.4" y2="389.54" stroke="#2a2a2a" stroke-width="1.2"/>
<line x1="196.9" y1="471.8" x2="253.8" y2="471.8" stroke="#2a2a2a" stroke-width="1.3"/>
<text x="194.4" y="382" font-size="11.5" text-anchor="end" font-weight="normal" font-family='"Liberation Sans", sans-serif' fill="#1a1a1a" stroke="#1a1a1a" stroke-width="0.3" >50</text>
<text x="194.4" y="400.28" font-size="11.5" text-anchor="end" font-weight="normal" font-family='"Liberation Sans", sans-serif' fill="#1a1a1a" stroke="#1a1a1a" stroke-width="0.3" >40</text>
<text x="194.4" y="418.56" font-size="11.5" text-anchor="end" font-weight="normal" font-family='"Liberation Sans", sans-serif' fill="#1a1a1a" stroke="#1a1a1a" stroke-width="0.3" >30</text>
<text x="194.4" y="436.84" font-size="11.5" text-anchor="end" font-weight="normal" font-family='"Liberation Sans", sans-serif' fill="#1a1a1a" stroke="#1a1a1a" stroke-width="0.3" >20</text>
<text x="194.4" y="455.12" font-size="11.5" text-anchor="end" font-weight="normal" font-family='"Liberation Sans", sans-serif' fill="#1a1a1a" stroke="#1a1a1a" stroke-width="0.3" >10</text>
<text x="194.4" y="473.4" font-size="11.5" text-anchor="end" font-weight="normal" font-family='"Liberation Sans", sans-serif' fill="#1a1a1a" stroke="#1a1a1a" stroke-width="0.3" >0</text>
<line x1="218.6" y1="392" x2="218.6" y2="413.7" stroke="#333" stroke-width="1.3"/>
<line x1="216.6" y1="392.5" x2="220.6" y2="392.5" stroke="#1a1a1a" stroke-width="1.25"/>
<line x1="235.3" y1="391" x2="235.3" y2="410.6" stroke="#333" stroke-width="1.3"/>
<line x1="233.3" y1="391.5" x2="237.3" y2="391.5" stroke="#1a1a1a" stroke-width="1.25"/>
<rect x="210.2" y="414.3" width="16.5" height="57.5" fill="#000" stroke="#000" stroke-width="1.2"/>
<rect x="226.7" y="411.2" width="16.8" height="60.6" fill="#fff" stroke="#111" stroke-width="1.3"/>
<text x="210.2" y="485.5" font-size="11.5" text-anchor="start" font-weight="normal" font-family='"Liberation Sans", sans-serif' fill="#1a1a1a" stroke="#1a1a1a" stroke-width="0.3" >Eosino</text>
<line x1="275.9" y1="378" x2="275.9" y2="472" stroke="#2a2a2a" stroke-width="1.3"/>
<line x1="274.5" y1="378.4" x2="275.9" y2="378.4" stroke="#2a2a2a" stroke-width="1.0"/>
<line x1="274.3" y1="456.33" x2="275.9" y2="456.33" stroke="#2a2a2a" stroke-width="1.2"/>
<line x1="274.3" y1="440.67" x2="275.9" y2="440.67" stroke="#2a2a2a" stroke-width="1.2"/>
<line x1="274.3" y1="425" x2="275.9" y2="425" stroke="#2a2a2a" stroke-width="1.2"/>
<line x1="274.3" y1="409.33" x2="275.9" y2="409.33" stroke="#2a2a2a" stroke-width="1.2"/>
<line x1="274.3" y1="393.67" x2="275.9" y2="393.67" stroke="#2a2a2a" stroke-width="1.2"/>
<line x1="275.4" y1="472" x2="333.8" y2="472" stroke="#2a2a2a" stroke-width="1.3"/>
<text x="271.7" y="379.8" font-size="11.5" text-anchor="end" font-weight="normal" font-family='"Liberation Sans", sans-serif' fill="#1a1a1a" stroke="#1a1a1a" stroke-width="0.3" >12</text>
<text x="271.7" y="395.47" font-size="11.5" text-anchor="end" font-weight="normal" font-family='"Liberation Sans", sans-serif' fill="#1a1a1a" stroke="#1a1a1a" stroke-width="0.3" >10</text>
<text x="271.7" y="411.13" font-size="11.5" text-anchor="end" font-weight="normal" font-family='"Liberation Sans", sans-serif' fill="#1a1a1a" stroke="#1a1a1a" stroke-width="0.3" >8</text>
<text x="271.7" y="426.8" font-size="11.5" text-anchor="end" font-weight="normal" font-family='"Liberation Sans", sans-serif' fill="#1a1a1a" stroke="#1a1a1a" stroke-width="0.3" >6</text>
<text x="271.7" y="442.47" font-size="11.5" text-anchor="end" font-weight="normal" font-family='"Liberation Sans", sans-serif' fill="#1a1a1a" stroke="#1a1a1a" stroke-width="0.3" >4</text>
<text x="271.7" y="458.13" font-size="11.5" text-anchor="end" font-weight="normal" font-family='"Liberation Sans", sans-serif' fill="#1a1a1a" stroke="#1a1a1a" stroke-width="0.3" >2</text>
<text x="271.7" y="473.8" font-size="11.5" text-anchor="end" font-weight="normal" font-family='"Liberation Sans", sans-serif' fill="#1a1a1a" stroke="#1a1a1a" stroke-width="0.3" >0</text>
<line x1="296.9" y1="402.2" x2="296.9" y2="422.9" stroke="#333" stroke-width="1.3"/>
<line x1="294.9" y1="402.7" x2="298.9" y2="402.7" stroke="#1a1a1a" stroke-width="1.25"/>
<line x1="313.9" y1="390.2" x2="313.9" y2="418.2" stroke="#333" stroke-width="1.3"/>
<line x1="311.9" y1="390.7" x2="315.9" y2="390.7" stroke="#1a1a1a" stroke-width="1.25"/>
<rect x="288.4" y="423.5" width="17.1" height="48.5" fill="#000" stroke="#000" stroke-width="1.2"/>
<rect x="305.5" y="418.8" width="16.9" height="53.2" fill="#fff" stroke="#111" stroke-width="1.3"/>
<text x="278.6" y="485.5" font-size="11.5" text-anchor="start" font-weight="normal" font-family='"Liberation Sans", sans-serif' fill="#1a1a1a" stroke="#1a1a1a" stroke-width="0.3" >Early eryth</text>
<line x1="376.9" y1="380.4" x2="376.9" y2="471.9" stroke="#2a2a2a" stroke-width="1.3"/>
<line x1="375.5" y1="380.8" x2="376.9" y2="380.8" stroke="#2a2a2a" stroke-width="1.0"/>
<line x1="375.3" y1="453.6" x2="376.9" y2="453.6" stroke="#2a2a2a" stroke-width="1.2"/>
<line x1="375.3" y1="435.3" x2="376.9" y2="435.3" stroke="#2a2a2a" stroke-width="1.2"/>
<line x1="375.3" y1="417" x2="376.9" y2="417" stroke="#2a2a2a" stroke-width="1.2"/>
<line x1="375.3" y1="398.7" x2="376.9" y2="398.7" stroke="#2a2a2a" stroke-width="1.2"/>
<line x1="376.5" y1="471.9" x2="437" y2="471.9" stroke="#2a2a2a" stroke-width="1.3"/>
<text x="372.7" y="382.4" font-size="11.5" text-anchor="end" font-weight="normal" font-family='"Liberation Sans", sans-serif' fill="#1a1a1a" stroke="#1a1a1a" stroke-width="0.3" >100</text>
<text x="372.7" y="400.7" font-size="11.5" text-anchor="end" font-weight="normal" font-family='"Liberation Sans", sans-serif' fill="#1a1a1a" stroke="#1a1a1a" stroke-width="0.3" >80</text>
<text x="372.7" y="419" font-size="11.5" text-anchor="end" font-weight="normal" font-family='"Liberation Sans", sans-serif' fill="#1a1a1a" stroke="#1a1a1a" stroke-width="0.3" >60</text>
<text x="372.7" y="437.3" font-size="11.5" text-anchor="end" font-weight="normal" font-family='"Liberation Sans", sans-serif' fill="#1a1a1a" stroke="#1a1a1a" stroke-width="0.3" >40</text>
<text x="372.7" y="455.6" font-size="11.5" text-anchor="end" font-weight="normal" font-family='"Liberation Sans", sans-serif' fill="#1a1a1a" stroke="#1a1a1a" stroke-width="0.3" >20</text>
<text x="372.7" y="473.9" font-size="11.5" text-anchor="end" font-weight="normal" font-family='"Liberation Sans", sans-serif' fill="#1a1a1a" stroke="#1a1a1a" stroke-width="0.3" >0</text>
<line x1="399" y1="415.5" x2="399" y2="434.5" stroke="#333" stroke-width="1.3"/>
<line x1="397" y1="416" x2="401" y2="416" stroke="#1a1a1a" stroke-width="1.25"/>
<line x1="415.9" y1="390.6" x2="415.9" y2="408.4" stroke="#333" stroke-width="1.3"/>
<line x1="413.9" y1="391.1" x2="417.9" y2="391.1" stroke="#1a1a1a" stroke-width="1.25"/>
<rect x="389.9" y="435.1" width="17.1" height="36.8" fill="#000" stroke="#000" stroke-width="1.2"/>
<rect x="407" y="409" width="17.8" height="62.9" fill="url(#hatch)" stroke="#111" stroke-width="1.3"/>
<line x1="457.8" y1="378.8" x2="457.8" y2="471.9" stroke="#2a2a2a" stroke-width="1.3"/>
<line x1="456.4" y1="379.2" x2="457.8" y2="379.2" stroke="#2a2a2a" stroke-width="1.0"/>
<line x1="456.2" y1="448.62" x2="457.8" y2="448.62" stroke="#2a2a2a" stroke-width="1.2"/>
<line x1="456.2" y1="425.35" x2="457.8" y2="425.35" stroke="#2a2a2a" stroke-width="1.2"/>
<line x1="456.2" y1="402.07" x2="457.8" y2="402.07" stroke="#2a2a2a" stroke-width="1.2"/>
<line x1="457.8" y1="471.9" x2="516.7" y2="471.9" stroke="#2a2a2a" stroke-width="1.3"/>
<text x="452.5" y="380.8" font-size="11.5" text-anchor="end" font-weight="normal" font-family='"Liberation Sans", sans-serif' fill="#1a1a1a" stroke="#1a1a1a" stroke-width="0.3" >2</text>
<text x="452.5" y="404.07" font-size="11.5" text-anchor="end" font-weight="normal" font-family='"Liberation Sans", sans-serif' fill="#1a1a1a" stroke="#1a1a1a" stroke-width="0.3" >1,5</text>
<text x="452.5" y="427.35" font-size="11.5" text-anchor="end" font-weight="normal" font-family='"Liberation Sans", sans-serif' fill="#1a1a1a" stroke="#1a1a1a" stroke-width="0.3" >1</text>
<text x="452.5" y="450.62" font-size="11.5" text-anchor="end" font-weight="normal" font-family='"Liberation Sans", sans-serif' fill="#1a1a1a" stroke="#1a1a1a" stroke-width="0.3" >0,5</text>
<text x="452.5" y="473.9" font-size="11.5" text-anchor="end" font-weight="normal" font-family='"Liberation Sans", sans-serif' fill="#1a1a1a" stroke="#1a1a1a" stroke-width="0.3" >0</text>
<line x1="479.8" y1="442.7" x2="479.8" y2="451.8" stroke="#333" stroke-width="1.3"/>
<line x1="477.8" y1="443.2" x2="481.8" y2="443.2" stroke="#1a1a1a" stroke-width="1.25"/>
<line x1="497.1" y1="448.2" x2="497.1" y2="454.9" stroke="#333" stroke-width="1.3"/>
<line x1="495.1" y1="448.7" x2="499.1" y2="448.7" stroke="#1a1a1a" stroke-width="1.25"/>
<rect x="471" y="452.4" width="18" height="19.5" fill="#fff" stroke="#111" stroke-width="1.3"/>
<line x1="475.5" y1="452.4" x2="475.5" y2="471.9" stroke="#000" stroke-width="1.6"/>
<line x1="480" y1="452.4" x2="480" y2="471.9" stroke="#000" stroke-width="1.6"/>
<line x1="484.5" y1="452.4" x2="484.5" y2="471.9" stroke="#000" stroke-width="1.6"/>
<rect x="489" y="455.5" width="16.3" height="16.4" fill="#fff" stroke="#111" stroke-width="1.3"/>
<text x="385.4" y="485.3" font-size="11.5" text-anchor="start" font-weight="normal" font-family='"Liberation Sans", sans-serif' fill="#1a1a1a" stroke="#1a1a1a" stroke-width="0.3" >CD45.1<tspan font-size="6.5" dx="0.3" dy="-3.7" fill="#333" stroke="#333" stroke-width="0.25">+</tspan><tspan dy="3.7"> cells in thymus</tspan></text>
</svg>
</body></html>
